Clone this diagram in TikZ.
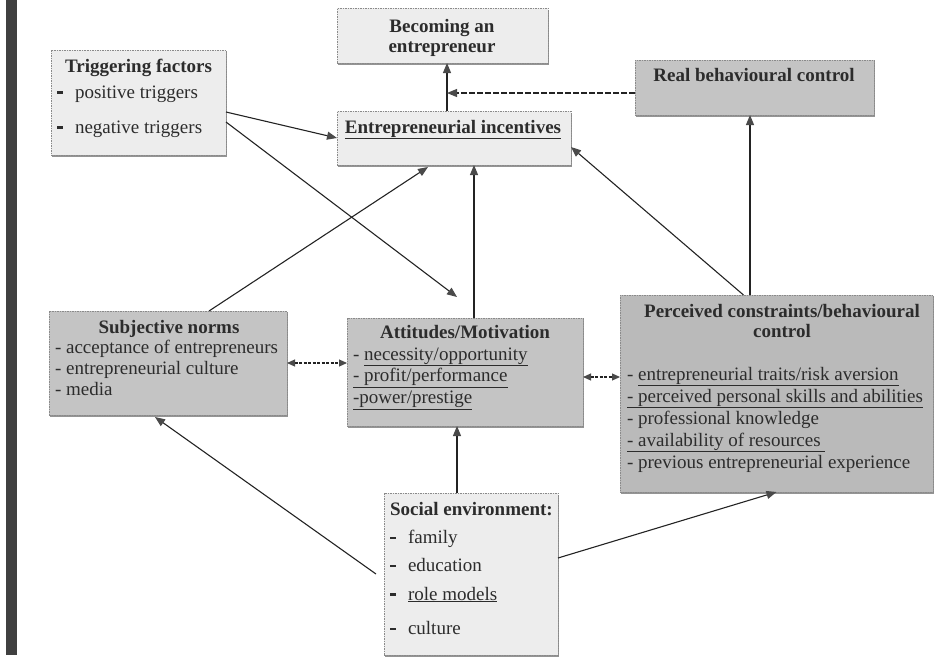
\documentclass[tikz,border=0pt]{standalone}
\usepackage{fontspec}
\setmainfont{Liberation Serif}
\usetikzlibrary{arrows.meta,shadows,calc}
\definecolor{txtc}{HTML}{2C2C2C}
\definecolor{linec}{HTML}{232323}
\definecolor{headc}{HTML}{4a4a4a}
\definecolor{boxline}{HTML}{8a8a8a}
\definecolor{lightfill}{HTML}{EDEDED}
\definecolor{darkfill}{HTML}{C4C4C4}
\definecolor{barc}{HTML}{404040}
\newcommand{\bdash}{\makebox[18pt][l]{\rule[4.5pt]{6pt}{2.2pt}}}
\begin{document}
\begin{tikzpicture}[x=1pt,y=-1pt,
  box/.style={draw=boxline, line width=0.6pt, dash pattern=on 1.5pt off 1pt,
    inner sep=0pt, outer sep=0pt, anchor=north west,
    drop shadow={shadow xshift=0.6pt, shadow yshift=-2.2pt, fill=black!70, opacity=0.6}},
  lightbox/.style={box, fill=lightfill},
  darkbox/.style={box, fill=darkfill},
  lbl/.style={inner sep=0pt, outer sep=0pt, text=txtc},
  head/.style={lbl, anchor=base, font=\fontsize{19}{20}\selectfont\bfseries},
  body/.style={lbl, anchor=base west},
  arr/.style={draw=linec, line width=1.1pt, -{Triangle[length=10pt,width=8pt,color=headc]}},
  darr/.style={draw=linec, line width=1.1pt, dash pattern=on 3pt off 1.5pt,
    {Triangle[length=8pt,width=7pt,color=headc]}-{Triangle[length=8pt,width=7pt,color=headc]}},
  dasharr/.style={arr, dash pattern=on 6pt off 2pt}
]
\useasboundingbox (0,0) rectangle (939,659);
\fill[barc] (6,0) rectangle (17,655);

% boxes
\node[lightbox, minimum width=211pt, minimum height=55pt] (becoming) at (337,8) {};
\node[lightbox, minimum width=175pt, minimum height=105pt] (trig) at (51,50) {};
\node[darkbox, minimum width=239pt, minimum height=55pt] (real) at (635,60) {};
\node[lightbox, minimum width=234pt, minimum height=54pt] (incent) at (337,111) {};
\node[darkbox, minimum width=238pt, minimum height=104pt] (subj) at (49,311) {};
\node[darkbox, minimum width=236pt, minimum height=108pt] (att) at (347,318) {};
\node[darkbox, minimum width=313pt, minimum height=197pt, fill=darkfill!95!black] (perc) at (620,295) {};
\node[lightbox, minimum width=174pt, minimum height=162pt] (soc) at (384,493) {};

% texts
\node[head] (becomingt) at (442,32.5) {\begin{tabular}[t]{@{}c@{}}Becoming an\\entrepreneur\end{tabular}};
\node[head] (trigt) at (138.5,72) {Triggering factors};
\node[body, font=\fontsize{19}{35}\selectfont] (trigb) at (57,98)
  {\begin{tabular}[t]{@{}l@{}}\bdash positive triggers\\\bdash negative triggers\end{tabular}};
\node[head] (realt) at (754,81) {Real behavioural control};
\node[head] (incentt) at (453,133) {\underline{Entrepreneurial incentives}};
\node[head] (subjt) at (169,333) {Subjective norms};
\node[body, font=\fontsize{19}{21}\selectfont] (subjb) at (55,353.5)
  {\begin{tabular}[t]{@{}l@{}}- acceptance of entrepreneurs\\- entrepreneurial culture\\- media\end{tabular}};
\node[head] (attt) at (465,338.5) {Attitudes/Motivation};
\node[body, font=\fontsize{19}{21.6}\selectfont] (attb) at (353,360)
  {\begin{tabular}[t]{@{}l@{}}- \smash{\underline{necessity/opportunity}}\\\smash{\underline{- profit/performance}}\\\smash{\underline{-power/prestige}}\end{tabular}};
\node[head] (perct) at (782,317) {\begin{tabular}[t]{@{}c@{}}Perceived constraints/behavioural\\control\end{tabular}};
\node[body, font=\fontsize{19}{22}\selectfont] (percb) at (627,380)
  {\begin{tabular}[t]{@{}l@{}}- \smash{\underline{entrepreneurial traits/risk aversion}}\\
   \smash{\underline{- perceived personal skills and abilities}}\\
   - professional knowledge\\
   \smash{\underline{- availability of resources\ }}\\
   - previous entrepreneurial experience\end{tabular}};
\node[body, font=\fontsize{19}{20}\selectfont\bfseries] (soct) at (390,515) {Social environment:};
\node[body, font=\fontsize{19}{28.3}\selectfont] (socb) at (390,543.5)
  {\begin{tabular}[t]{@{}l@{}}\bdash family\\\bdash education\\\bdash \smash{\underline{role models}}\\[6pt]\bdash culture\end{tabular}};

% connectors
\coordinate (j) at (447,93);
\draw[arr] (incent.north -| j) -- (becoming.south -| j);
\draw[dasharr] (real.west |- j) -- (j);
\draw[arr] ([yshift=-9.5pt]trig.east) -- (incent.west);
\draw[arr] ([yshift=-19.5pt]trig.east) -- ([xshift=-8pt,yshift=21pt]att.north);
\draw[arr] ([xshift=41pt]subj.north) -- ([xshift=-26pt,yshift=-2pt]incent.south);
\coordinate (k) at (474,0);
\draw[arr] (att.north -| k) -- (incent.south -| k);
\draw[arr] ([xshift=-33pt]perc.north) -- ([yshift=-9pt]incent.east);
\coordinate (m) at (750,0);
\draw[arr] (perc.north -| m) -- (real.south -| m);
\draw[darr] (subj.east) -- (subj.east -| att.west);
\coordinate (ae) at ([yshift=-5pt]att.east);
\draw[darr] (ae) -- (ae -| perc.west);
\coordinate (n) at (457,0);
\draw[arr] (soc.north -| n) -- (att.south -| n);
\draw[arr] ([xshift=-8pt]soc.west) -- ([xshift=-13pt,yshift=-2pt]subj.south);
\draw[arr] ([yshift=16pt]soc.east) -- (perc.south);
\end{tikzpicture}
\end{document}
